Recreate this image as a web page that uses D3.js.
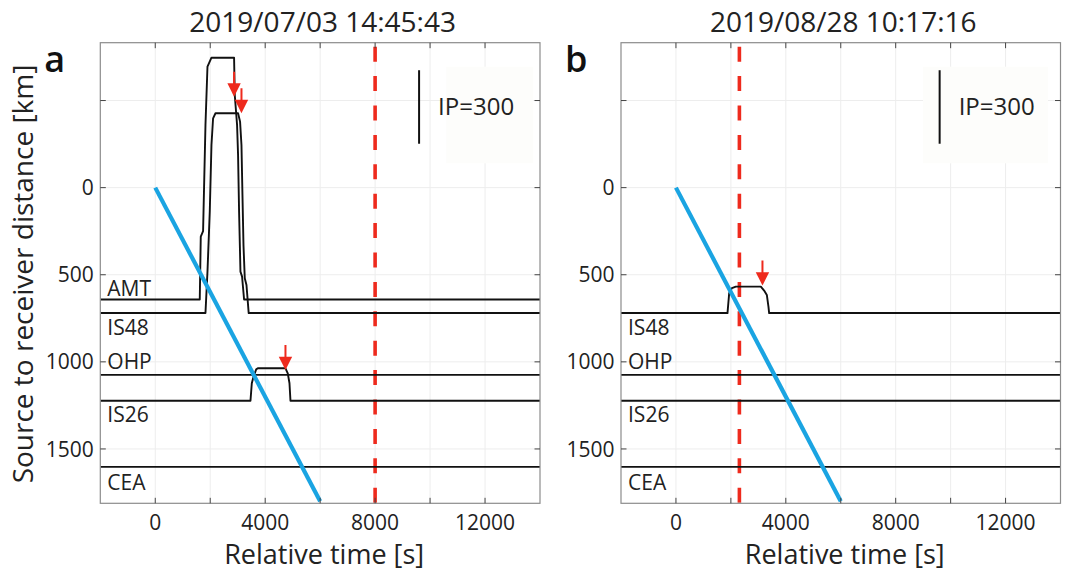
<!DOCTYPE html>
<html>
<head>
<meta charset="utf-8">
<script src="https://cdn.jsdelivr.net/npm/d3@7"></script>
<style>
  html, body { margin: 0; padding: 0; background: #fff; }
  svg { display: block; font-family: "Open Sans", sans-serif; }
</style>
</head>
<body>
<svg id="chart" width="1065" height="572"></svg>
<script>
// ---- axes ----
const timeDomain = [-2000, 14000];
const distDomain = [-832, 1812];
const timeTicks = [-2000, 0, 2000, 4000, 6000, 8000, 10000, 12000, 14000];
const timeTickLabels = ["", "0", "", "4000", "", "8000", "", "12000", ""];
const distTicks = [-500, 0, 500, 1000, 1500];
const distTickLabels = ["", "0", "500", "1000", "1500"];

// ---- panel text ----
const titles = ["2019/07/03 14:45:43", "2019/08/28 10:17:16"];
const panelLetters = ["a", "b"];
const xLabel = "Relative time [s]";
const yLabel = "Source to receiver distance [km]";

// ---- event a: station traces, [time s, distance km] ----
const stationsA = ["AMT", "IS48", "OHP", "IS26", "CEA"];
const amtA = [[-2000, 642], [1619, 642], [1656, 281], [1740, 249], [1827, -360], [1900, -695],
  [2045, -746], [2868, -746], [2893, -532], [2977, -360], [3013, -188], [3050, 138],
  [3100, 482], [3159, 511], [3232, 642], [14000, 642]];
const is48A = [[-2000, 720], [1827, 720], [1900, 482], [1983, 138], [2045, -245], [2104, -398],
  [2191, -427], [3013, -427], [3086, -379], [3137, -245], [3173, 42], [3210, 329],
  [3257, 520], [3319, 559], [3400, 720], [14000, 720]];
const ohpA = [[-2000, 1075], [14000, 1075]];
const is26A = [[-2000, 1223], [3465, 1223], [3513, 1123], [3575, 1085], [3673, 1043],
  [3731, 1037], [4738, 1037], [4822, 1066], [4884, 1123], [4920, 1223], [14000, 1223]];
const ceaA = [[-2000, 1603], [14000, 1603]];
const arrowsA = [[2868, -522], [3137, -427], [4738, 1047]];
const arrivalA = 8000;

// ---- event b ----
const stationsB = ["IS48", "OHP", "IS26", "CEA"];
const is48B = [[-2000, 720], [1877, 720], [1938, 606], [2036, 577], [2182, 568], [3091, 568],
  [3211, 591], [3309, 616], [3368, 683], [3393, 720], [14000, 720]];
const ohpB = [[-2000, 1075], [14000, 1075]];
const is26B = [[-2000, 1223], [14000, 1223]];
const ceaB = [[-2000, 1603], [14000, 1603]];
const arrowsB = [[3150, 562]];
const arrivalB = 2310;

// ---- shared overlays ----
const celerityTime = [0, 6000];      // 0.3 km/s reference
const celerityDist = [0, 1800];
const scaleBarTime = 9600;
const scaleBarDist = [-674, -252];
const scaleBarLabel = "IP=300";

// ---- layout ----
const svg = d3.select("#chart");
const plotTop = 42.7, plotBottom = 503.3;
const panels = [
  { left: 100.3, right: 540, title: titles[0], letter: panelLetters[0], stations: stationsA,
    traces: [amtA, is48A, ohpA, is26A, ceaA], arrows: arrowsA, arrival: arrivalA, yLabel: true,
    box: [346, 433] },
  { left: 621, right: 1060.5, title: titles[1], letter: panelLetters[1], stations: stationsB,
    traces: [is48B, ohpB, is26B, ceaB], arrows: arrowsB, arrival: arrivalB, yLabel: false,
    box: [302, 427] }
];
// label baseline offset (px) from each station line
const labelOffset = { AMT: -3, IS48: 22, OHP: -6, IS26: 21, CEA: 23 };

const axisGrey = "#8c8c8c", textCol = "#222";

panels.forEach((p, pi) => {
  const x = d3.scaleLinear().domain(timeDomain).range([p.left, p.right]);
  const y = d3.scaleLinear().domain(distDomain).range([plotTop, plotBottom]);
  const g = svg.append("g");

  const clipId = "clip" + pi;
  svg.append("clipPath").attr("id", clipId).append("rect")
    .attr("x", p.left).attr("y", plotTop).attr("width", p.right - p.left).attr("height", plotBottom - plotTop);

  // grid
  g.append("g").selectAll("line").data(timeTicks.slice(1, -1)).join("line")
    .attr("x1", d => x(d)).attr("x2", d => x(d)).attr("y1", plotTop).attr("y2", plotBottom)
    .attr("stroke", "#ededed").attr("stroke-width", 1);
  g.append("g").selectAll("line").data(distTicks).join("line")
    .attr("y1", d => y(d)).attr("y2", d => y(d)).attr("x1", p.left).attr("x2", p.right)
    .attr("stroke", "#ededed").attr("stroke-width", 1);

  // faint legend background
  g.append("rect").attr("x", p.left + p.box[0]).attr("y", 66.7)
    .attr("width", p.box[1] - p.box[0]).attr("height", 96.6).attr("fill", "#fdfdfb");

  const plot = g.append("g").attr("clip-path", `url(#${clipId})`);

  // predicted arrival (dashed)
  plot.append("line")
    .attr("x1", x(p.arrival)).attr("x2", x(p.arrival)).attr("y1", plotTop).attr("y2", plotBottom)
    .attr("stroke", "#ee2a1d").attr("stroke-width", 3.6)
    .attr("stroke-dasharray", "15 14.4").attr("stroke-dashoffset", 25.4);

  // station traces
  const line = d3.line().x(d => x(d[0])).y(d => y(d[1]));
  plot.selectAll("path.trace").data(p.traces).join("path").attr("class", "trace")
    .attr("d", line).attr("fill", "none").attr("stroke", "#111")
    .attr("stroke-width", 1.9).attr("stroke-linejoin", "round");

  // celerity line
  plot.append("line")
    .attr("x1", x(celerityTime[0])).attr("y1", y(celerityDist[0]))
    .attr("x2", x(celerityTime[1])).attr("y2", y(celerityDist[1]))
    .attr("stroke", "#1aa4e2").attr("stroke-width", 4.2);

  // arrows marking picks
  const ag = plot.append("g");
  p.arrows.forEach(a => {
    const tx = x(a[0]), ty = y(a[1]);
    ag.append("line").attr("x1", tx).attr("x2", tx).attr("y1", ty - 25).attr("y2", ty - 12)
      .attr("stroke", "#ee2a1d").attr("stroke-width", 2);
    ag.append("path")
      .attr("d", `M${tx},${ty} L${tx - 6.7},${ty - 13.4} L${tx + 6.7},${ty - 13.4} Z`)
      .attr("fill", "#ee2a1d");
  });

  // amplitude scale bar
  g.append("line").attr("x1", x(scaleBarTime)).attr("x2", x(scaleBarTime))
    .attr("y1", y(scaleBarDist[0])).attr("y2", y(scaleBarDist[1]))
    .attr("stroke", "#111").attr("stroke-width", 2);
  g.append("text").attr("x", x(scaleBarTime) + 19).attr("y", y((scaleBarDist[0] + scaleBarDist[1]) / 2) + 8.5)
    .attr("font-size", 24).attr("fill", textCol).text(scaleBarLabel);

  // station labels
  p.stations.forEach((s, i) => {
    g.append("text").attr("x", p.left + 7)
      .attr("y", y(p.traces[i][0][1]) + labelOffset[s])
      .attr("font-size", 21).attr("fill", textCol).text(s);
  });

  // box
  g.append("rect").attr("x", p.left).attr("y", plotTop)
    .attr("width", p.right - p.left).attr("height", plotBottom - plotTop)
    .attr("fill", "none").attr("stroke", axisGrey).attr("stroke-width", 1.2);

  // inward ticks on all sides
  const tk = 5.5;
  timeTicks.slice(1, -1).forEach(t => {
    g.append("line").attr("x1", x(t)).attr("x2", x(t)).attr("y1", plotBottom).attr("y2", plotBottom - tk)
      .attr("stroke", "#444").attr("stroke-width", 1);
    g.append("line").attr("x1", x(t)).attr("x2", x(t)).attr("y1", plotTop).attr("y2", plotTop + tk)
      .attr("stroke", "#444").attr("stroke-width", 1);
  });
  distTicks.forEach(d => {
    g.append("line").attr("y1", y(d)).attr("y2", y(d)).attr("x1", p.left).attr("x2", p.left + tk)
      .attr("stroke", "#444").attr("stroke-width", 1);
    g.append("line").attr("y1", y(d)).attr("y2", y(d)).attr("x1", p.right).attr("x2", p.right - tk)
      .attr("stroke", "#444").attr("stroke-width", 1);
  });

  // tick labels
  g.append("g").selectAll("text").data(timeTicks).join("text")
    .attr("x", d => x(d)).attr("y", plotBottom + 27).attr("text-anchor", "middle")
    .attr("font-size", 21).attr("fill", textCol)
    .text((d, i) => timeTickLabels[i]);
  g.append("g").selectAll("text").data(distTicks).join("text")
    .attr("x", p.left - 6.5).attr("y", d => y(d)).attr("dy", "0.36em").attr("text-anchor", "end")
    .attr("font-size", 21).attr("fill", textCol)
    .text((d, i) => distTickLabels[i]);

  // titles and labels
  const cx = (p.left + p.right) / 2;
  g.append("text").attr("x", cx + 2.5).attr("y", 31.5).attr("text-anchor", "middle")
    .attr("font-size", 28).attr("fill", textCol).text(p.title);
  g.append("text").attr("x", cx + 4).attr("y", 564).attr("text-anchor", "middle")
    .attr("font-size", 27).attr("fill", textCol).text(xLabel);
  g.append("text").attr("x", p.left - 56).attr("y", 72).attr("font-size", 36)
    .attr("font-weight", 600).attr("fill", "#111").text(p.letter);
  if (p.yLabel) {
    g.append("text").attr("transform", `translate(33,274) rotate(-90)`)
      .attr("text-anchor", "middle").attr("font-size", 28).attr("fill", textCol).text(yLabel);
  }
});
</script>
</body>
</html>
